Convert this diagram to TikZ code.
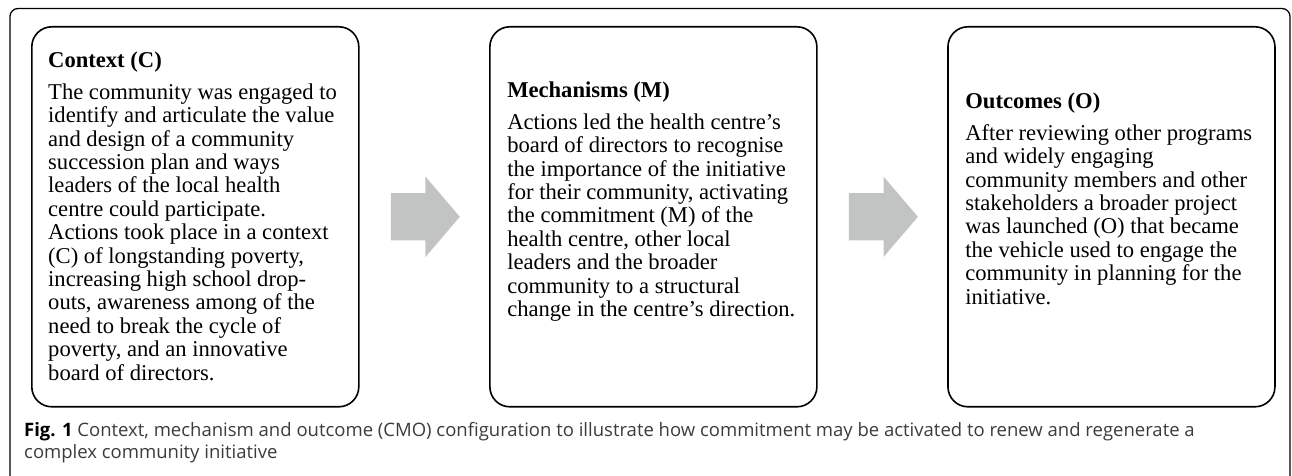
\documentclass[tikz,border=0pt]{standalone}
\usepackage{fontspec}
\setmainfont{Liberation Serif}
\newfontfamily\capfont{Open Sans}
\usepackage{tikz}
\usetikzlibrary{positioning}
\usetikzlibrary{shapes.arrows}
\definecolor{arrowgray}{RGB}{194,195,195}
\definecolor{captiongray}{RGB}{60,60,60}

\begin{document}
\begin{tikzpicture}[x=1pt, y=1pt,
        cmobox/.style={rectangle, rounded corners=20pt, draw=black, line width=1.6pt, minimum width=327pt, minimum height=380pt, inner sep=0pt},
        cmotext/.style={inner sep=0pt, align=left, font=\fontsize{22.6}{23.4}\selectfont},
        blockarrow/.style={single arrow, fill=arrowgray, inner xsep=0pt, inner ysep=23.5pt, minimum height=69pt, single arrow head extend=16.5pt, single arrow tip angle=99},
        node distance=30pt]
        \useasboundingbox (0,0) rectangle (1292,476);
        \draw[line width=1.3pt, rounded corners=8pt] (10,0) -- (10,467.5) -- (1290,467.5) -- (1290,0);

        \node[cmobox]      (ctx)     [anchor=north west] at (31,450) {};
        \node[blockarrow]  (arrone)  [right=31pt of ctx] {};
        \node[cmobox]      (mech)    [right=29pt of arrone] {};
        \node[blockarrow]  (arrtwo)  [right=31pt of mech] {};
        \node[cmobox]      (outc)    [right=29pt of arrtwo] {};

        \node[cmotext]  (ctxtext)   [below right=25.4pt and 17pt of ctx.north west]
            {\textbf{Context (C)}\\[8.6pt]
             The community was engaged to\\ identify and articulate the value\\ and design of a community\\
             succession plan and ways\\ leaders of the local health\\ centre could participate.\\
             Actions took place in a context\\ (C) of longstanding poverty,\\ increasing high school drop-\\
             outs, awareness among of the\\ need to break the cycle of\\ poverty, and an innovative\\
             board of directors.};
        \node[cmotext]  (mechtext)  [below right=55.4pt and 18pt of mech.north west]
            {\textbf{Mechanisms (M)}\\[8.6pt]
             Actions led the health centre's\\ board of directors to recognise\\ the importance of the initiative\\
             for their community, activating\\ the commitment (M) of the\\ health centre, other local\\
             leaders and the broader\\ community to a structural\\ change in the centre's direction.};
        \node[cmotext]  (outctext)  [below right=66.4pt and 18pt of outc.north west]
            {\textbf{Outcomes (O)}\\[8.6pt]
             After reviewing other programs\\ and widely engaging\\ community members and other\\
             stakeholders a broader project\\ was launched (O) that became\\ the vehicle used to engage the\\
             community in planning for the\\ initiative.};

        \node[font=\capfont\fontsize{18.5}{22}\selectfont, text=captiongray, align=left, inner sep=0pt, anchor=base west] (caption) at (24,17)
            {\textbf{\color{black}Fig. 1} Context, mechanism and outcome (CMO) configuration to illustrate how commitment may be activated to renew and regenerate a\\
             complex community initiative};
    \end{tikzpicture}
\end{document}
